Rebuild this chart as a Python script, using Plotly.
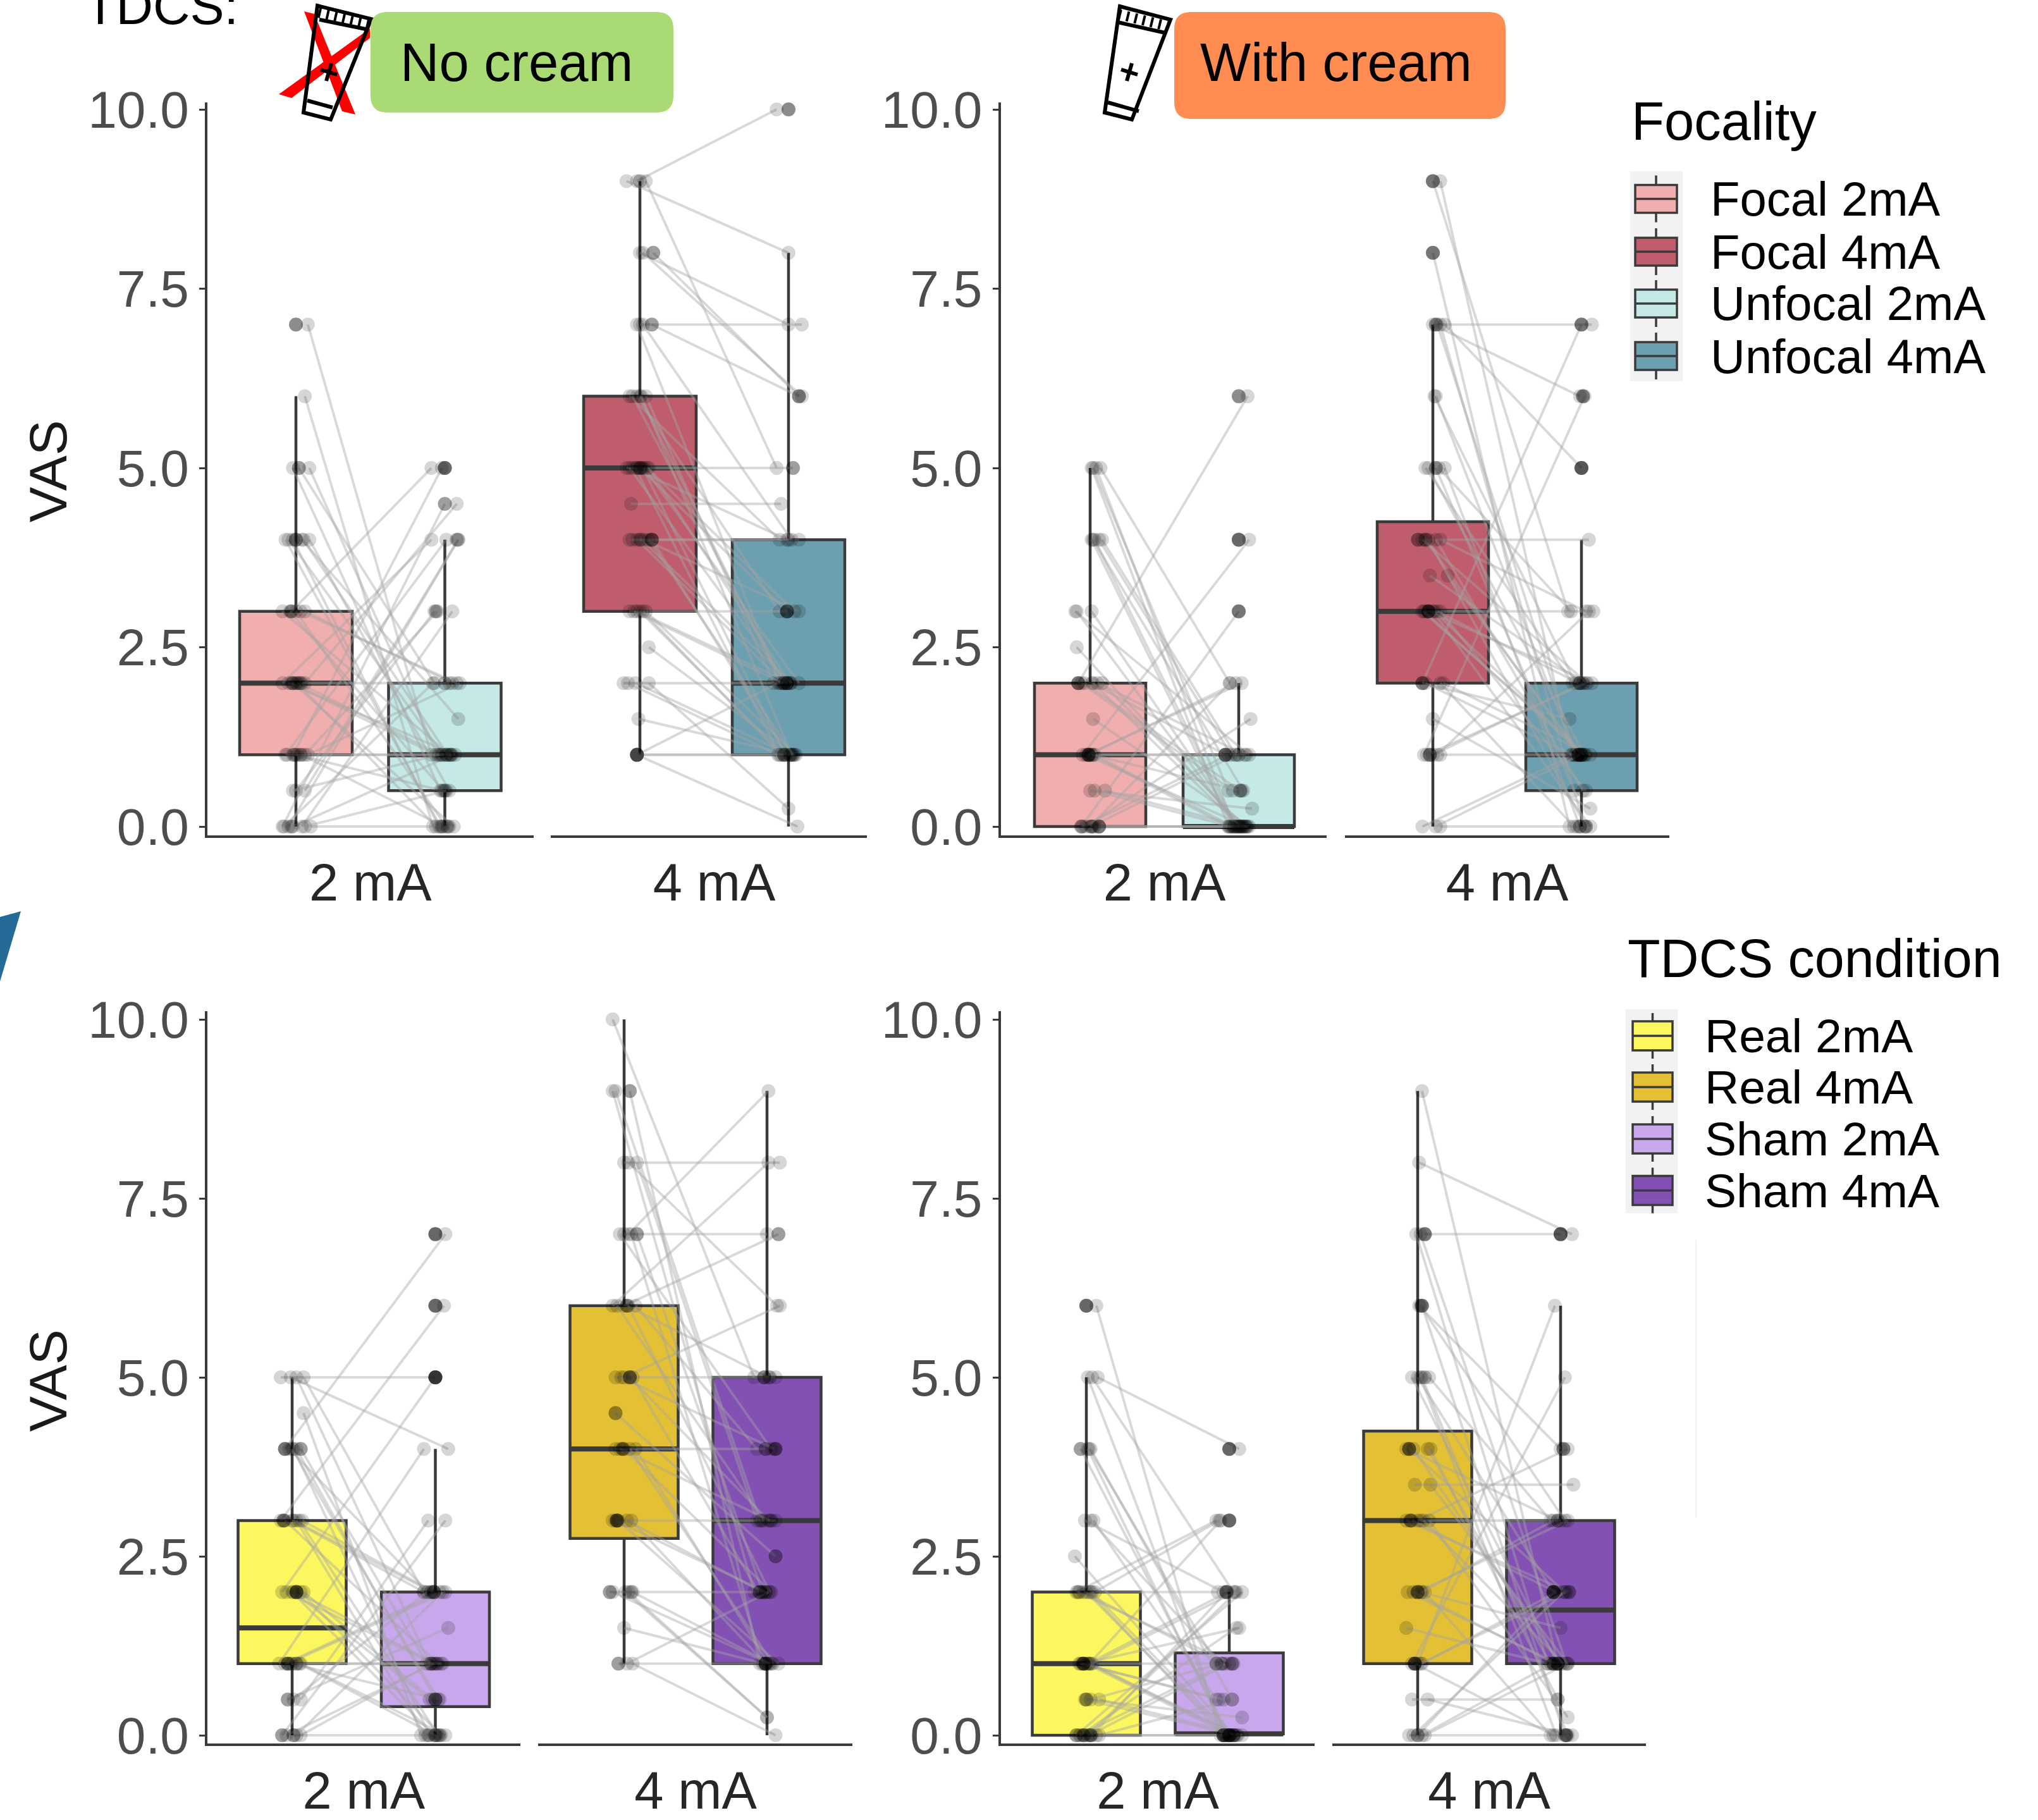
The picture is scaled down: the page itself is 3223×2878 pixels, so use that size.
import plotly.graph_objects as go

W, H = 3223, 2878
TICK_VALS = [0, 2.5, 5, 7.5, 10]
TICK_TEXT = ["0.0", "2.5", "5.0", "7.5", "10.0"]
GROUPS = ["2 mA", "4 mA"]

# ---- Box statistics: lowerfence, q1, median, q3, upperfence ----
focal2_nc = [0, 1, 2, 3, 6]
unfocal2_nc = [0, 0.5, 1, 2, 4]
focal4_nc = [1, 3, 5, 6, 9]
unfocal4_nc = [0, 1, 2, 4, 8]
focal2_c = [0, 0, 1, 2, 5]
unfocal2_c = [0, 0, 0, 1, 2]
focal4_c = [0, 2, 3, 4.25, 7]
unfocal4_c = [0, 0.5, 1, 2, 4]
real2_nc = [0, 1, 1.5, 3, 5]
sham2_nc = [0, 0.4, 1, 2, 4]
real4_nc = [1, 2.75, 4, 6, 10]
sham4_nc = [0, 1, 3, 5, 9]
real2_c = [0, 0, 1, 2, 5]
sham2_c = [0, 0.02, 0.02, 1.15, 2]
real4_c = [0, 1, 3, 4.25, 9]
sham4_c = [0, 1, 1.75, 3, 6]

# ---- Paired subject ratings (left box -> right box) and jitter in 1/100 of a category ----
a1_yl = [7,6,5,5,5,4,4,4,4,3,3,3,3,2,2,2,2,2,1,1,1,1,1,.5,.5,0,0,0,0,0,4,4,3,3,2,2,2,1,1,1,.5,0,0]
a1_dl = [8,6,-2,2,9,-5,-2,4,9,-9,-3,0,6,-9,-5,-2,2,6,-7,-2,4,8,0,0,6,-9,-5,-2,4,10,5,-7,-4,3,-3,1,4,-6,1,6,-2,-8,6]
a1_yr = [1,0,.5,2,1,1,0,1.5,.5,1,5,0,2,4,1,0,1,4.5,4,5,0,2,1,3,4,4.5,4,1,3,0,1,0,.5,2,1,0,2,1,.5,3,1,2,.5]
a1_dr = [-9,-8,-3,-7,-5,-1,-4,9,3,3,-9,1,5,-9,7,6,-3,8,1,-2,-1,10,1,-7,9,0,9,5,5,3,2,-3,-1,8,-6,-6,3,4,-2,-5,-4,-8,1]
a1_dark_x = [1,1,1.02,1,1,.98,1,1.03,.99,1.03,.97,.97,2,2,2,2,2,1.98,2.01,2.04,1.98,2.02,1.94,2,2.08]
a1_dark_y = [7,7,5,4,4,2,2,2,1,1,3,0,5,5,5,4.5,2,1,1,1,0,0,3,.5,4]

a2_yl = [9,9,9,8,8,7,7,6,6,6,6,5,5,5,5,5,5,4.5,4,4,4,4,3,3,3,3,2.5,2,2,2,1.5,1,1,1,8,7,7,6,6,5,5,5,4,4,4,3,3,2,1]
a2_dl = [-2,-9,4,0,9,0,8,-7,-2,4,0,-9,-5,0,6,-3,3,-6,-7,-2,8,3,-7,-2,4,0,6,-11,-3,6,-1,-2,-2,-2,2,2,-2,-5,1,-7,2,5,-5,1,6,-4,2,-8,-2]
a2_yr = [10,8,5,7,6,7,6,4,3,2,2,5,4,3,2,1,2,4.5,4,2,1,3,3,2,1,1,1,2,1,.25,1,1,2,0,6,4,2,2,1,2,1,3,4,2,1,2,1,1,1]
a2_dr = [-8,0,-8,0,7,9,7,-6,-6,-10,-5,3,-1,-1,1,-6,7,-5,7,-3,-1,7,-1,1,5,-3,3,-1,1,0,2,4,-7,6,9,2,-6,-3,2,-1,-2,4,0,2,3,-4,-5,-7,-3]
a2_dark_x = [1,1.09,1.08,.98,1,1.01,1,1.08,1.08,.98,.98,2,2,2.07,2.03,1.99,1.99,1.97,1.99,1.99,1.97,2.01]
a2_dark_y = [9,8,7,5,5,5,4,4,4,1,1,10,10,6,5,3,3,2,2,2,1,1]

b1_yl = [5,5,5,4,4,4,3,3,2.5,2,2,2,2,1.5,1,1,1,1,1,.5,.5,0,0,0,0,0,0,5,4,4,3,2,2,2,1,1,1,1,.5,0,0]
b1_dl = [2,7,1,1,8,3,-10,1,-9,-8,1,8,-4,2,-5,0,3,-2,1,0,10,-6,1,6,3,0,-3,4,2,6,-9,-6,2,5,-3,2,-1,1,3,-5,2]
b1_yr = [.5,2,0,0,1,0,1,0,0,6,1,0,.5,0,4,1,0,2,0,.25,0,3,1,0,0,2,1.5,0,.5,1,0,.5,0,1,0,1,2,.5,0,1,0]
b1_dr = [-7,-6,-7,-4,-2,-2,7,0,2,6,-9,4,1,7,7,-9,-4,2,-7,9,2,0,-2,0,3,-6,8,-3,3,-5,-1,-4,1,4,5,5,-2,2,-5,-7,6]
b1_dark_x = [.92,.92,.99,.99,.99,.94,1.01,1.06,1.06,2,2,2,2,2,2,2,2,1.91,1.91,2.01,1.94,1.97,1.99,2.01,2.03,2.05]
b1_dark_y = [2,2,1,1,1,0,0,0,0,6,6,4,4,4,3,3,1,1,1,.5,0,0,0,0,0,0]

b2_yl = [9,9,8,7,7,7,6,5,5,5,4,4,4,3.5,3.5,3,3,3,3,3,2,2,2,1.5,1,1,1,0,0,4,3,7,7,6,5,5,4,4,3,3,2,2,1,1,0]
b2_dl = [0,5,0,2,8,0,2,-5,2,8,-10,-5,5,-2,10,-7,-5,-3,0,5,-7,7,-7,0,-6,0,5,-7,5,-3,1,3,5,1,-3,4,-7,2,-6,3,-5,5,-4,3,2]
b2_yr = [3,1,0,7,5,6,1,2,.5,0,4,1,3,2,1,1,3,2,0,.5,7,1,1.5,.25,6,2,1,1,0,0,1,1,0,2,1,3,2,.5,1,2,1,0,2,3,1]
b2_dr = [-9,-7,-8,7,0,-1,-4,-6,-5,-1,5,-2,3,1,0,3,8,7,6,3,0,6,-8,6,2,1,-1,-5,-3,3,2,-4,2,-4,2,-7,4,1,1,-2,-6,-5,3,5,-1]
b2_dark_x = [1,1,1,1,1.02,1.02,.95,.9,.97,.97,.97,.93,.98,.98,2,2,2.01,2.01,2,2,2,1.99,1.99,1.98,1.98,1.98,2,2,1.99,2.03]
b2_dark_y = [9,9,8,8,7,5,4,4,3,3,3,2,1,1,7,7,6,6,5,5,5,2,2,1,1,1,1,1,0,0]

c1_yl = [5,5,5,4.5,4,4,4,3,3,3,2,2,2,1,1,1,1,.5,.5,0,0,0,1,2,3,4,5,4,4,3,3,3,2,2,2,1,1,1,.5,0,0]
c1_dl = [-8,-1,8,8,-5,6,1,-8,1,5,-7,3,8,-9,-3,3,6,-3,6,-7,1,6,0,0,0,0,3,-2,3,-5,3,7,-4,1,6,-5,-1,5,1,-4,3]
c1_yr = [5,4,2,0,7,1,0,6,2,0,5,1,.5,4,2,1,0,1.5,3,3,0,1,.5,0,2,.5,1,2,.5,1,0,2,1,.5,0,2,1,0,2,1,2]
c1_dr = [0,9,-8,-10,7,-6,-4,6,-2,2,0,0,-2,-8,7,5,7,9,-5,7,1,-3,3,-1,-8,2,-4,-5,0,2,-7,-1,-2,-4,4,3,4,0,-6,-1,5]
c1_dark_x = [.95,.95,1.06,.94,.94,1.03,1.03,1.03,.97,.97,1.03,.97,.93,1.01,2,2,2,2,2,2,2,2,2,2,1.97,1.99,1.99,1.97,2.01,2,2,1.95,2,2.03]
c1_dark_y = [4,4,4,3,3,2,2,2,1,1,1,.5,0,0,7,7,7,6,6,6,5,5,5,5,2,2,2,1,1,.5,.5,0,0,0]

c2_yl = [10,9,9,8,8,7,7,6,6,6,6,5,5,4.5,4,4,4,3,3,3,2,2,2,1.5,1,1,5,7,9,8,7,7,6,6,5,5,4,4,3,3,2,2,1]
c2_dl = [-8,-8,4,0,9,0,9,-8,0,8,2,-6,4,-6,-6,0,8,-8,-4,2,-10,6,3,0,-4,6,0,3,-6,3,-3,5,-5,3,-2,6,-3,4,-6,5,-8,1,2]
c2_yr = [5,2,1,8,3,7,2,8,7,4,5,5,3,2.5,4,2,1,3,1,2,2,1,.25,1,1,0,6,9,3,6,4,1,3,2,4,2,3,1,2,1,1,.25,2]
c2_dr = [-9,-9,-5,9,-7,0,-3,1,8,-7,1,6,1,6,-1,3,1,6,8,-3,-3,3,0,-2,0,6,9,1,-5,7,3,-3,-2,2,5,-6,2,4,-1,-1,2,0,1]
c2_dark_x = [1.04,1.09,1.02,1.04,1.04,.94,.99,.99,.95,.95,.95,.9,1.05,.96,1.98,1.98,2.02,1.99,2.06,2.06,1.96,2.03,2.06,1.95,1.95,1.99,1.99,1.99,1.99,2.08]
c2_dark_y = [9,7,6,5,5,4.5,4,4,3,3,3,2,2,1,5,5,5,4,4,4,3,3,2.5,2,2,2,1,1,1,7]

d1_yl = [6,5,5,4,4,3,2.5,2,2,2,1,1,1,1,.5,.5,0,0,0,0,2,1,5,4,3,2,2,1,.5,0,0,1,4,3,2,2,1,1,1,.5,0,0,0]
d1_dl = [7,8,1,-4,2,5,-8,-7,6,3,-5,1,3,-2,0,9,-7,-1,9,4,0,0,4,3,-1,-2,2,-3,3,2,-4,2,1,3,-6,4,-4,2,4,-1,-5,1,7]
d1_yr = [0,4,0,0,1,.5,0,3,3,2,1,2,0,1.5,.25,0,2,0,.5,2,0,0,2,.5,2,1,0,.5,1,1,1.5,3,0,1,1,0,.5,0,2,0,1,2,0]
d1_dr = [-6,7,-3,0,-9,-9,3,-9,-7,-8,3,-1,6,7,9,9,9,-3,2,-2,-1,1,3,2,-4,-5,-4,-7,-6,0,5,-6,-2,-5,2,1,-4,4,4,5,-3,5,0]
d1_dark_x = [1,1,1,.96,.95,.98,.98,.98,1,.93,.98,.98,1.03,1.03,2,2,2,2,2,2,1.98,1.98,1.91,2.02,1.96,1.96,1.96,2,2,2,2.03,2.03]
d1_dark_y = [6,6,6,4,2,1,1,1,.5,0,0,0,0,0,4,4,4,3,3,3,2,2,1,1,0,0,0,0,0,0,0,0]

d2_yl = [9,8,7,7,6,6,5,5,5,4,4,3.5,3.5,3,3,3,2,2,2,1.5,1,1,.5,.5,0,0,0,4,3,2,5,1,7,6,5,4,4,3,3,2,2,1,1,0,0]
d2_dl = [3,1,5,-1,3,1,-4,0,8,-8,9,-2,9,-8,0,8,-7,0,5,-8,-4,0,-4,7,-6,0,5,-3,2,2,2,3,2,2,3,-6,7,-4,4,-3,3,-2,2,-3,3]
d2_yr = [1,7,7,1,0,4,1,2,3,3,.5,3.5,1,2,4,.25,1,3,0,1,5,6,.5,0,0,2,1,1,3,1.5,0,2,1,3,0,2,1,2,1,1,3,0,2,2,1]
d2_dr = [-2,8,0,-9,3,0,-2,-5,-7,-2,-2,9,5,6,5,5,-2,5,-7,-9,3,-4,-2,8,3,-5,5,0,0,0,-3,-3,4,3,5,3,-7,-3,2,-4,-5,-5,4,2,-6]
d2_dark_x = [1.05,1.05,1.03,1.03,1.05,.94,.94,.95,.95,1,1,.98,.98,.98,1,2,2,2,2.02,2.02,1.98,1.95,1.95,1.95,2.06,1.95,1.95,1.98,1.98,2.04,2.04]
d2_dark_y = [7,7,6,6,5,4,4,3,3,2,2,1,1,1,0,7,7,7,4,4,3,2,2,2,2,1,1,1,1,0,0]

# ---- Colours ----
C_FOCAL2, C_FOCAL4, C_UNF2, C_UNF4 = "#F0AEAE", "#BF5D6D", "#C4E9E6", "#6C9FB0"
C_REAL2, C_REAL4, C_SHAM2, C_SHAM4 = "#FCF65F", "#E3C034", "#C9A7EC", "#8350B3"
C_LINE = "#3A3A3A"
C_TICK = "#4D4D4D"
FONT = "Liberation Sans"

# Layout in pixels of the page
def fx(px): return px / W
def fy(py): return 1 - py / H

PANELS = [
    dict(ytop=162, ybot=1321, y0=1307, y10=173, facets=[
        dict(l=328, r=844, c=(468, 703.5), bw=178, stats=(focal2_nc, unfocal2_nc), col=(C_FOCAL2, C_UNF2),
             d=(a1_yl, a1_dl, a1_yr, a1_dr, a1_dark_x, a1_dark_y), lab=GROUPS[0]),
        dict(l=871, r=1371, c=(1012, 1247), bw=178, stats=(focal4_nc, unfocal4_nc), col=(C_FOCAL4, C_UNF4),
             d=(a2_yl, a2_dl, a2_yr, a2_dr, a2_dark_x, a2_dark_y), lab=GROUPS[1])]),
    dict(ytop=162, ybot=1321, y0=1307, y10=173, facets=[
        dict(l=1582.5, r=2098, c=(1724, 1959), bw=176, stats=(focal2_c, unfocal2_c), col=(C_FOCAL2, C_UNF2),
             d=(b1_yl, b1_dl, b1_yr, b1_dr, b1_dark_x, b1_dark_y), lab=GROUPS[0]),
        dict(l=2127, r=2640, c=(2266, 2501), bw=176, stats=(focal4_c, unfocal4_c), col=(C_FOCAL4, C_UNF4),
             d=(b2_yl, b2_dl, b2_yr, b2_dr, b2_dark_x, b2_dark_y), lab=GROUPS[1])]),
    dict(ytop=1599, ybot=2757, y0=2744, y10=1612, facets=[
        dict(l=328, r=823, c=(462, 688.5), bw=171, stats=(real2_nc, sham2_nc), col=(C_REAL2, C_SHAM2),
             d=(c1_yl, c1_dl, c1_yr, c1_dr, c1_dark_x, c1_dark_y), lab=GROUPS[0]),
        dict(l=851, r=1348, c=(987, 1213), bw=171, stats=(real4_nc, sham4_nc), col=(C_REAL4, C_SHAM4),
             d=(c2_yl, c2_dl, c2_yr, c2_dr, c2_dark_x, c2_dark_y), lab=GROUPS[1])]),
    dict(ytop=1599, ybot=2757, y0=2744, y10=1612, facets=[
        dict(l=1582.5, r=2079, c=(1718, 1944), bw=171, stats=(real2_c, sham2_c), col=(C_REAL2, C_SHAM2),
             d=(d1_yl, d1_dl, d1_yr, d1_dr, d1_dark_x, d1_dark_y), lab=GROUPS[0]),
        dict(l=2107, r=2603, c=(2242, 2468), bw=171, stats=(real4_c, sham4_c), col=(C_REAL4, C_SHAM4),
             d=(d2_yl, d2_dl, d2_yr, d2_dr, d2_dark_x, d2_dark_y), lab=GROUPS[1])]),
]

fig = go.Figure()
layout = dict(width=W, height=H, autosize=False, margin=dict(l=0, r=0, t=0, b=0, pad=0, autoexpand=False),
              paper_bgcolor="white", plot_bgcolor="rgba(0,0,0,0)", showlegend=False,
              font=dict(family=FONT), boxmode="overlay")

ax_n = 0
for pi, p in enumerate(PANELS):
    yname = "y" if pi == 0 else f"y{pi + 1}"
    ykey = "yaxis" if pi == 0 else f"yaxis{pi + 1}"
    unit = (p["y0"] - p["y10"]) / 10
    yrange = [-(p["ybot"] - p["y0"]) / unit, 10 + (p["y10"] - p["ytop"]) / unit]
    first_x = None
    for fi, f in enumerate(p["facets"]):
        ax_n += 1
        xname = "x" if ax_n == 1 else f"x{ax_n}"
        xkey = "xaxis" if ax_n == 1 else f"xaxis{ax_n}"
        first_x = first_x or xname
        spacing = f["c"][1] - f["c"][0]
        xr = [1 - (f["c"][0] - f["l"]) / spacing, 2 + (f["r"] - f["c"][1]) / spacing]
        bw = f["bw"] / spacing
        layout[xkey] = dict(domain=[fx(f["l"]), fx(f["r"])], range=xr, anchor=yname, fixedrange=True,
                            tickmode="array", tickvals=[1.5], ticktext=[f["lab"]], ticks="",
                            tickfont=dict(size=83, color="#262626", family=FONT),
                            showgrid=False, zeroline=False, showline=True, linecolor=C_LINE, linewidth=3.5)
        for k in (0, 1):
            s = f["stats"][k]
            fig.add_trace(go.Box(x=[k + 1], lowerfence=[s[0]], q1=[s[1]], median=[s[2]], q3=[s[3]],
                                 upperfence=[s[4]], width=bw, whiskerwidth=0, boxpoints=False,
                                 fillcolor=f["col"][k], line=dict(color=C_LINE, width=4.5),
                                 xaxis=xname, yaxis=yname, hoverinfo="skip"))
            fig.add_trace(go.Scatter(x=[k + 1 - bw / 2, k + 1 + bw / 2], y=[s[2], s[2]], mode="lines",
                                     line=dict(color=C_LINE, width=8), xaxis=xname, yaxis=yname,
                                     hoverinfo="skip"))
        yl, dl, yr, dr, dkx, dky = f["d"]
        for a, da, b, db in zip(yl, dl, yr, dr):
            fig.add_trace(go.Scatter(x=[1 + da / 100, 2 + db / 100], y=[a, b], mode="lines+markers",
                                     line=dict(color="rgba(165,165,165,0.42)", width=4),
                                     marker=dict(size=22, color="rgba(0,0,0,0.16)"),
                                     xaxis=xname, yaxis=yname, hoverinfo="skip"))
        fig.add_trace(go.Scatter(x=dkx, y=dky, mode="markers",
                                 marker=dict(size=22, color="rgba(0,0,0,0.26)"),
                                 xaxis=xname, yaxis=yname, hoverinfo="skip"))
    layout[ykey] = dict(domain=[fy(p["ybot"]), fy(p["ytop"])], range=yrange, anchor=first_x, fixedrange=True,
                        tickmode="array", tickvals=TICK_VALS, ticktext=TICK_TEXT, ticks="outside",
                        ticklen=9, tickwidth=3, tickcolor=C_LINE,
                        tickfont=dict(size=82, color=C_TICK, family=FONT),
                        showgrid=False, zeroline=False, showline=True, linecolor=C_LINE, linewidth=3.5)

# ---- Decoration: icons, cream labels, legends ----
def path(points, close=True):
    s = " ".join(("M" if i == 0 else "L") + f" {fx(x):.5f} {fy(y):.5f}" for i, (x, y) in enumerate(points))
    return s + (" Z" if close else "")

shapes, annos = [], []
def poly(points, fill=None, color=None, width=0, close=True, dash=None):
    line = dict(color=color or "rgba(0,0,0,0)", width=width)
    if dash: line["dash"] = dash
    shapes.append(dict(type="path", xref="paper", yref="paper", path=path(points, close), line=line,
                       fillcolor=fill or "rgba(0,0,0,0)", layer="above"))

def rounded(x0, y0, x1, y1, r, fill):
    k = 0.3 * r
    d = (f"M {fx(x0+r):.5f} {fy(y0):.5f} L {fx(x1-r):.5f} {fy(y0):.5f} "
         f"C {fx(x1-k):.5f} {fy(y0):.5f} {fx(x1):.5f} {fy(y0+k):.5f} {fx(x1):.5f} {fy(y0+r):.5f} "
         f"L {fx(x1):.5f} {fy(y1-r):.5f} "
         f"C {fx(x1):.5f} {fy(y1-k):.5f} {fx(x1-k):.5f} {fy(y1):.5f} {fx(x1-r):.5f} {fy(y1):.5f} "
         f"L {fx(x0+r):.5f} {fy(y1):.5f} "
         f"C {fx(x0+k):.5f} {fy(y1):.5f} {fx(x0):.5f} {fy(y1-k):.5f} {fx(x0):.5f} {fy(y1-r):.5f} "
         f"L {fx(x0):.5f} {fy(y0+r):.5f} "
         f"C {fx(x0):.5f} {fy(y0+k):.5f} {fx(x0+k):.5f} {fy(y0):.5f} {fx(x0+r):.5f} {fy(y0):.5f} Z")
    shapes.append(dict(type="path", xref="paper", yref="paper", path=d, fillcolor=fill,
                       line=dict(width=0), layer="above"))

def text(x, y, t, size, color="black", anchor="left", angle=0):
    annos.append(dict(x=fx(x), y=fy(y), xref="paper", yref="paper", text=t, showarrow=False,
                      xanchor=anchor, yanchor="middle", textangle=angle, borderpad=0, borderwidth=0,
                      font=dict(size=size, color=color, family=FONT)))

def tube(tl, tr, br, bl, cap_l, cap_r, crimp_l, crimp_r, plus):
    poly([tl, tr, br, bl], color="black", width=6)
    poly([cap_l, cap_r], color="black", width=6, close=False)
    poly([crimp_l, crimp_r], color="black", width=6, close=False)
    mid_l = ((tl[0] + cap_l[0]) / 2, (tl[1] + cap_l[1]) / 2)
    mid_r = ((tr[0] + cap_r[0]) / 2, (tr[1] + cap_r[1]) / 2)
    poly([mid_l, mid_r], color="black", width=16, close=False, dash="4px,9px")
    px_, py_ = plus
    poly([(px_ - 13, py_ - 4), (px_ + 13, py_ + 4)], color="black", width=6, close=False)
    poly([(px_ + 4, py_ - 14), (px_ - 4, py_ + 14)], color="black", width=6, close=False)

poly([(0, 1450), (33, 1441), (0, 1552)], fill="#236A96")
poly([(2682, 1961), (2682, 2400)], color="#F0F0F0", width=2, close=False)
poly([(481, 18), (497, 22), (562, 181), (541, 176)], fill="#FF0000")
poly([(585, 45), (585, 60), (461, 155), (441, 149)], fill="#FF0000")
tube((502, 9), (587, 30), (523, 189), (480, 178), (505, 31), (583, 47), (486, 159), (526, 170), (520, 114))
tube((1771, 10), (1851, 31), (1790, 189), (1747, 178), (1767, 35), (1843, 52), (1752, 162), (1801, 176), (1786, 114))
rounded(586, 19, 1065, 178, 28, "#A9DA74")
rounded(1857, 19, 2381, 188, 28, "#FF8C50")
text(817, 99, "No cream", 85, anchor="center")
text(2113, 99, "With cream", 85, anchor="center")
text(134, 10, "TDCS:", 81)
text(76, 745, "VAS", 84, color="#1A1A1A", anchor="center", angle=-90)
text(76, 2183, "VAS", 84, color="#1A1A1A", anchor="center", angle=-90)

def legend(title, tx, ty, tsize, bg, rows, box_x, half_h, half_w, tex, lsize, labels, cols):
    text(tx, ty, title, tsize)
    shapes.append(dict(type="rect", xref="paper", yref="paper", x0=fx(bg[0]), x1=fx(bg[2]), y0=fy(bg[3]), y1=fy(bg[1]),
                       fillcolor="#F2F2F2", line=dict(width=0), layer="above"))
    for yc, lab, col in zip(rows, labels, cols):
        xm = (box_x[0] + box_x[1]) / 2
        poly([(xm, yc - half_w), (xm, yc + half_w)], color=C_LINE, width=3.5, close=False)
        shapes.append(dict(type="rect", xref="paper", yref="paper", x0=fx(box_x[0]), x1=fx(box_x[1]),
                           y0=fy(yc + half_h), y1=fy(yc - half_h), fillcolor=col,
                           line=dict(color=C_LINE, width=3.5), layer="above"))
        poly([(box_x[0], yc), (box_x[1], yc)], color=C_LINE, width=3.5, close=False)
        text(tex, yc, lab, lsize)

legend("Focality", 2580, 191, 85, (2578, 271, 2661, 603), [314.5, 398, 480, 563], (2586, 2652), 22, 37, 2705, 76,
       ["Focal 2mA", "Focal 4mA", "Unfocal 2mA", "Unfocal 4mA"], [C_FOCAL2, C_FOCAL4, C_UNF2, C_UNF4])
legend("TDCS condition", 2574, 1516, 84.5, (2571, 1596, 2653, 1919), [1638, 1719, 1801, 1882.5], (2582, 2645), 23, 36, 2696, 75,
       ["Real 2mA", "Real 4mA", "Sham 2mA", "Sham 4mA"], [C_REAL2, C_REAL4, C_SHAM2, C_SHAM4])

layout["shapes"] = shapes
layout["annotations"] = annos
fig.update_layout(**layout)
fig.write_html("out.html", post_script="document.body.style.margin='0';document.body.style.overflow='hidden';",
               config=dict(displayModeBar=False))
